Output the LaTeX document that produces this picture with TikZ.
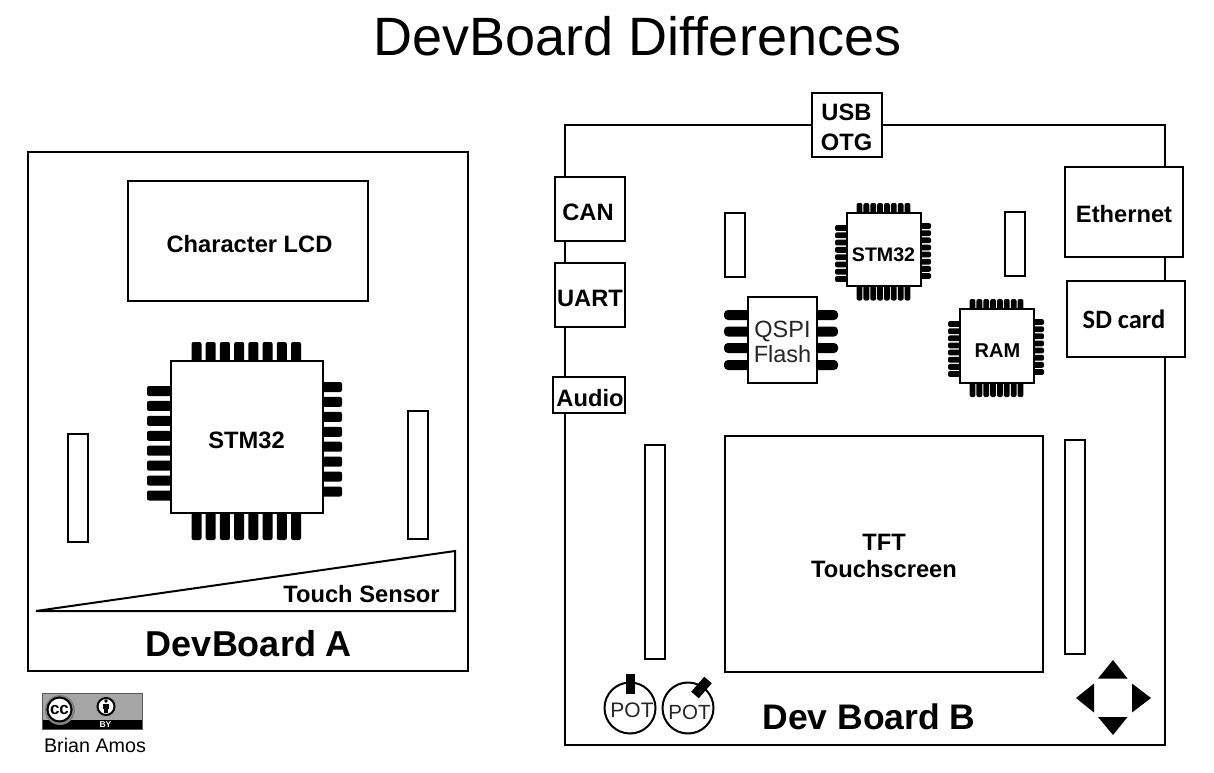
\documentclass[tikz,border=0pt]{standalone}
\usepackage{fontspec}
\setmainfont{Liberation Sans}
\newfontfamily\carlito{Carlito}
\newfontfamily\noliga[Ligatures=NoCommon]{Liberation Sans}
\newcommand{\fs}[1]{\fontsize{#1}{#1}\selectfont}
\tikzset{
  box/.style={draw=black,fill=white,line width=2pt,inner sep=0pt,outer sep=0pt},
  lbl/.style={font=\fs{23.7}\bfseries,inner sep=0pt,align=center},
  pinshape/.style={fill=black,draw=none,rounded corners=2pt},
  arrowtri/.style={fill=black,draw=none},
}
\newcommand{\rectnode}[5]{%
  \node[box,anchor=north west,minimum width=#4-#2,minimum height=#5-#3] (#1) at (#2,#3) {};
}
% centres #1..#2 along x, from y #3 to y #4, width #5
\newcommand{\pinsH}[5]{%
  \foreach \i in {0,...,7}{
    \pgfmathsetmacro{\px}{#1+(#2-#1)*\i/7}
    \fill[pinshape] (\px-#5/2,#3) rectangle (\px+#5/2,#4);
  }
}
\newcommand{\pinsV}[5]{%
  \foreach \i in {0,...,7}{
    \pgfmathsetmacro{\py}{#1+(#2-#1)*\i/7}
    \fill[pinshape] (#3,\py-#5/2) rectangle (#4,\py+#5/2);
  }
}
\begin{document}
\begin{tikzpicture}[x=1pt,y=-1pt]
\useasboundingbox (0,0) rectangle (1214,772);
\fill[white] (0,0) rectangle (1214,772);
\node[inner sep=0pt,font=\noliga\fs{54}] (title) at (637.5,36.5) {DevBoard Differences};

% ---- Board A
\rectnode{boardA}{28}{152}{468}{671}
\rectnode{lcd}{128}{181}{368}{301}
\node[lbl] (lcdt) at (249.5,244) {Character LCD};
\rectnode{stripA1}{68}{434}{88}{542}
\rectnode{stripA2}{408}{411}{428}{539}
\pinsH{196.5}{296}{342}{366}{10}
\pinsH{196.5}{296}{508}{540}{10}
\pinsV{391}{495.5}{147}{175}{10}
\pinsV{387}{491.5}{342}{317}{10}
\rectnode{chipA}{170.5}{361}{322.5}{513}
\node[lbl] (chipAt) at (246.5,440) {STM32};
\draw[line width=2pt,fill=white,line join=miter] (36,611) -- (455,551) -- (455,611) -- cycle;
\node[lbl] (touch) at (361.5,594) {Touch Sensor};
\node[inner sep=0pt,font=\fs{36}\bfseries] (aname) at (249,644) {DevBoard A};

% ---- Board B
\rectnode{boardB}{565}{125}{1165}{745}
\rectnode{usb}{812}{93}{882}{157}
\node[lbl] (usbt) at (846.5,127.5) {USB\\[6pt]OTG};
\rectnode{can}{555}{177}{625}{241}
\node[lbl] (cant) at (588,212) {CAN};
\rectnode{uart}{555}{263}{625}{327}
\node[lbl] (uartt) at (590,298) {UART};
\rectnode{audio}{553}{377}{625}{413}
\node[lbl] (audiot) at (590,398) {Audio};
\rectnode{eth}{1065}{167}{1183}{257}
\node[lbl] (etht) at (1124,214) {Ethernet};
\rectnode{sd}{1067}{281}{1185}{357}
\node[lbl,font=\fs{26.5}\bfseries\carlito] (sdt) at (1124,319) {SD card};
\rectnode{strip1}{725}{213}{745}{277}
\rectnode{strip2}{1005}{212}{1025}{276}
\rectnode{strip3}{645}{445}{665}{659}
\rectnode{strip4}{1065}{440}{1085}{654}
\rectnode{tft}{725}{436}{1043}{672}
\node[lbl] (tftt) at (884,556) {TFT\\[4pt]Touchscreen};

% small STM32
\pinsH{859.5}{907.5}{203}{218}{5.8}
\pinsH{859.5}{907.5}{281}{300.5}{5.8}
\pinsV{228}{279}{835}{851}{5.8}
\pinsV{226}{276}{931}{915}{5.8}
\rectnode{chipB}{846.5}{213}{920.5}{286}
\node[lbl,font=\fs{19.6}\bfseries] (chipBt) at (883.5,255) {STM32};

% RAM
\pinsH{972.5}{1020.5}{299}{314}{5.8}
\pinsH{972.5}{1020.5}{378}{397}{5.8}
\pinsV{324}{374}{948}{964}{5.8}
\pinsV{322}{372}{1044}{1028}{5.8}
\rectnode{ram}{959.5}{309}{1033.5}{383}
\node[lbl,font=\fs{20}\bfseries] (ramt) at (997.5,351) {RAM};

% QSPI
\foreach \py in {315,331.5,348,365}{
  \fill[pinshape,rounded corners=4pt] (724,\py-5) rectangle (760,\py+5);
  \fill[pinshape,rounded corners=4pt] (838,\py-5) rectangle (800,\py+5);
}
\rectnode{qspi}{747.5}{297}{816.5}{383}
\node[inner sep=0pt,align=center,font=\fs{23.5},text=black!85] (qspit) at (782.5,342) {QSPI\\[2pt]Flash};

% Pots
\node[circle,box,minimum size=51pt] (pot1) at (630,708) {};
\node[inner sep=0pt,font=\fs{21},text=black!85] (pot1t) at (632,710) {POT};
\fill (625.5,674) rectangle (634.5,694);
\node[circle,box,minimum size=51pt] (pot2) at (688,708) {};
\node[inner sep=0pt,font=\fs{20.5},text=black!85] (pot2t) at (689.5,712) {POT};
\draw[line width=10pt,black] (708,680) -- (695,695);

\node[inner sep=0pt,font=\fs{35.5}\bfseries] (bname) at (869,717) {Dev Board B};

% D-pad
\fill[arrowtri] (1113,660) -- (1127.5,678.5) -- (1098,678.5) -- cycle;
\fill[arrowtri] (1113,735) -- (1127.5,717) -- (1098,717) -- cycle;
\fill[arrowtri] (1076,698) -- (1094,683.5) -- (1094,712.5) -- cycle;
\fill[arrowtri] (1151,698) -- (1132,683.5) -- (1132,712.5) -- cycle;

% Licence badge
\fill[black!35] (42,693) rectangle (142,719.5);
\fill[black] (42,719.5) rectangle (142,729);
\draw[black!65,line width=.7pt] (42,693) rectangle (142,729);
\begin{scope}
  \clip (42,693) rectangle (142,729);
  \fill[black!50] (60,710) circle (15);
\end{scope}
\node[circle,draw=black,fill=white,line width=2pt,outer sep=0pt,minimum size=24pt,inner sep=0pt,font=\fs{17}\bfseries] (cc) at (59.5,709.5) {cc};
\node[circle,draw=black,fill=white,line width=2pt,outer sep=0pt,minimum size=17pt,inner sep=0pt] (ccby) at (106,706.5) {};
\fill (106,701) circle (1.8);
\fill (103,703.5) rectangle (109,708.5);
\fill (104,708) rectangle (108,713);
\node[inner sep=0pt,font=\fs{8.5}\bfseries,text=white] (by) at (105.5,724.5) {BY};
\node[inner sep=0pt,font=\fs{19.7}] (author) at (95,745) {Brian Amos};
\end{tikzpicture}
\end{document}
